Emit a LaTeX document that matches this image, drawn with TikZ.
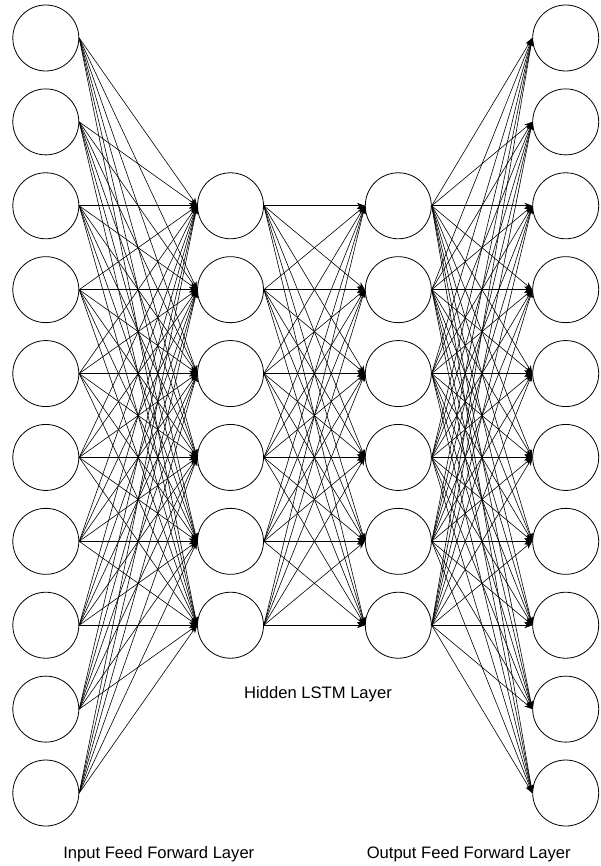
\documentclass[tikz,border=0pt]{standalone}
\usepackage{fontspec}
\setmainfont{Liberation Sans}
\usetikzlibrary{arrows.meta}
\begin{document}
\begin{tikzpicture}[x=1pt,y=-1pt,
  neuron/.style={circle,draw,minimum size=66pt,inner sep=0pt,line width=0.8pt},
  conn/.style={-{Stealth[length=8pt,width=6pt]},line width=0.6pt},
  lbl/.style={font=\fontsize{16.6}{20}\selectfont,anchor=base}]
\useasboundingbox (0,0) rectangle (601,866);
\foreach \i in {1,...,10} {
  \node[neuron] (in\i) at (45.8,{38+83.89*(\i-1)}) {};
  \node[neuron] (out\i) at (565.7,{38+83.89*(\i-1)}) {};
}
\foreach \j in {1,...,6} {
  \node[neuron] (ha\j) at (230.5,{38+83.89*(\j+1)}) {};
  \node[neuron] (hb\j) at (398.3,{38+83.89*(\j+1)}) {};
}
\foreach \i in {1,...,10} {
  \foreach \j in {1,...,6} {
    \draw[conn] (in\i.east) -- (ha\j.west);
    \draw[conn] (hb\j.east) -- (out\i.west);
  }
}
\foreach \i in {1,...,6} {
  \foreach \j in {1,...,6} {
    \draw[conn] (ha\i.east) -- (hb\j.west);
  }
}
\node[lbl] (lh) at (318,698.3) {Hidden LSTM Layer};
\node[lbl] (li) at (158.8,858.3) {Input Feed Forward Layer};
\node[lbl] (lo) at (468.7,858.3) {Output Feed Forward Layer};
\end{tikzpicture}
\end{document}
